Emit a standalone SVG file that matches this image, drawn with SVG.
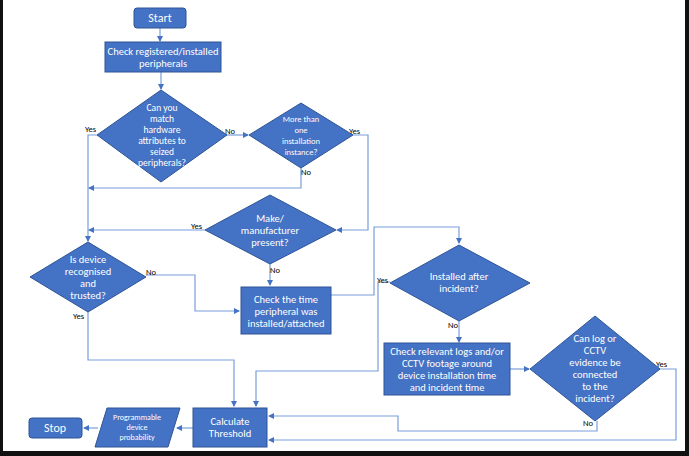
<svg xmlns="http://www.w3.org/2000/svg" width="689" height="456" viewBox="0 0 689 456">
<defs>
<marker id="a" markerWidth="6" markerHeight="6" refX="5" refY="3" orient="auto" markerUnits="userSpaceOnUse"><path d="M0,0 L6,3 L0,6 z" fill="#4472C4"/></marker>
<style>
.n{fill:#4472C4;stroke:#2F5597;stroke-width:1}
.t{fill:#fff;font-family:Calibri,"Liberation Sans",sans-serif;font-size:9.5px;text-anchor:middle}
.r{font-size:10.5px}
.s{font-size:8.5px}
.b{font-size:12px}
.c{fill:none;stroke:#7A9DDB;stroke-width:1.2;marker-end:url(#a)}
.l{fill:#000;font-family:Calibri,"Liberation Sans",sans-serif;font-size:8.5px}
</style>
</defs>
<rect width="689" height="456" fill="#fff"/>
<path d="M0,0 V456 H689 V0 H685 V451 H3 V0 z" fill="#111"/>
<g id="connectors">
<path class="c" d="M160,28 V41"/>
<path class="c" d="M161,72 V89"/>
<path class="c" d="M227,135 H248"/>
<path class="c" d="M97,135 H88 V241"/>
<path class="c" d="M301,168 V188 H89"/>
<path class="c" d="M353,135 H368 V230 H337"/>
<path class="c" d="M205,230 H89"/>
<path class="c" d="M270,264 V285"/>
<path class="c" d="M146,275 H195 V311 H239"/>
<path class="c" d="M331,295 H374 V227 H459 V243"/>
<path class="c" d="M459,321 V342"/>
<path class="c" d="M390,282 H378 V371 H256 V406"/>
<path class="c" d="M88,312 V360 H234 V406"/>
<path class="c" d="M510,369 H529"/>
<path class="c" d="M597,421 V431 H398 V416 H269"/>
<path class="c" d="M660,369 H676 V440 H269"/>
<path class="c" d="M193,428 H177"/>
<path class="c" d="M98,428 H84"/>
</g>
<g class="l">
<text x="85" y="132">Yes</text><text x="225" y="134">No</text>
<text x="349" y="134">Yes</text><text x="301" y="175">No</text>
<text x="191" y="229">Yes</text><text x="270" y="273">No</text>
<text x="146" y="275">No</text><text x="73" y="319">Yes</text>
<text x="377" y="283">Yes</text><text x="448" y="328">No</text>
<text x="583" y="426">No</text><text x="656" y="367">Yes</text>
</g>
<g id="start"><rect class="n" x="134" y="8" width="52" height="20" rx="3"/><text class="t b" x="160" y="22">Start</text></g>
<g id="check"><rect class="n" x="105" y="42" width="116" height="30"/><text class="t r" x="163" y="55">Check registered/installed</text><text class="t r" x="163" y="67">peripherals</text></g>
<g id="d1"><polygon class="n" points="161,90 227,135 161,182 97,135"/><text class="t" x="162" y="111">Can you</text><text class="t" x="162" y="122">match</text><text class="t" x="162" y="133">hardware</text><text class="t" x="162" y="144">attributes to</text><text class="t" x="162" y="155">seized</text><text class="t" x="162" y="166">peripherals?</text></g>
<g id="d2"><polygon class="n" points="301,103 353,135 301,168 249,135"/><text class="t s" x="301" y="122">More than</text><text class="t s" x="301" y="133">one</text><text class="t s" x="301" y="144">installation</text><text class="t s" x="301" y="155">instance?</text></g>
<g id="d3"><polygon class="n" points="270,195 336,230 270,264 205,230"/><text class="t r" x="270" y="222">Make/</text><text class="t r" x="270" y="234">manufacturer</text><text class="t r" x="270" y="246">present?</text></g>
<g id="d4"><polygon class="n" points="88,242 146,277 88,312 30,277"/><text class="t r" x="88" y="263">Is device</text><text class="t r" x="88" y="275">recognised</text><text class="t r" x="88" y="287">and</text><text class="t r" x="88" y="299">trusted?</text></g>
<g id="time"><rect class="n" x="241" y="287" width="90" height="47"/><text class="t r" x="286" y="303">Check the time</text><text class="t r" x="286" y="315">peripheral was</text><text class="t r" x="286" y="327">installed/attached</text></g>
<g id="d5"><polygon class="n" points="459,245 530,283 459,321 390,283"/><text class="t r" x="459" y="280">Installed after</text><text class="t r" x="459" y="292">incident?</text></g>
<g id="logs"><rect class="n" x="384" y="343" width="126" height="52"/><text class="t r" x="447" y="355">Check relevant logs and/or</text><text class="t r" x="447" y="367">CCTV footage around</text><text class="t r" x="447" y="379">device installation time</text><text class="t r" x="447" y="391">and incident time</text></g>
<g id="d6"><polygon class="n" points="595,316 660,369 595,421 530,369"/><text class="t r" x="595" y="342">Can log or</text><text class="t r" x="595" y="354">CCTV</text><text class="t r" x="595" y="366">evidence be</text><text class="t r" x="595" y="378">connected</text><text class="t r" x="595" y="390">to the</text><text class="t r" x="595" y="402">incident?</text></g>
<g id="calc"><rect class="n" x="193" y="408" width="74" height="39"/><text class="t r" x="230" y="425">Calculate</text><text class="t r" x="230" y="437">Threshold</text></g>
<g id="prob"><polygon class="n" points="107,408 180,408 168,447 95,447"/><text class="t" x="137" y="420" style="font-size:8px">Programmable</text><text class="t" x="137" y="430" style="font-size:8px">device</text><text class="t" x="137" y="440" style="font-size:8px">probability</text></g>
<g id="stop"><rect class="n" x="29" y="418" width="53" height="20" rx="3"/><text class="t b" x="55" y="432">Stop</text></g>
</svg>
